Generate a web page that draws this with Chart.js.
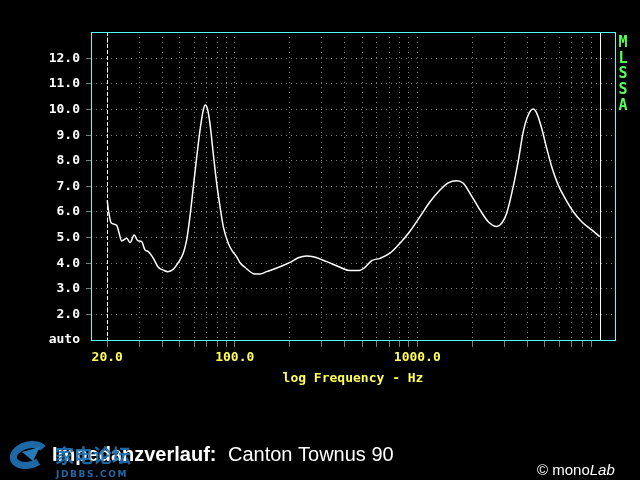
<!DOCTYPE html>
<html><head><meta charset="utf-8">
<script src="https://cdn.jsdelivr.net/npm/chart.js@4/dist/chart.umd.min.js"></script>
<style>html,body{margin:0;padding:0;background:#000;overflow:hidden}canvas{display:block}</style>
</head><body><canvas id="c" width="640" height="480"></canvas>
<script>
const frequencies = [20, 20.3, 21.0, 22.5, 23.0, 24.0, 25.6, 26.7, 28.1, 29.4, 30.9, 32.2, 33.6, 35.8, 38.1, 40.6, 42.9, 46.0, 49.0, 52.2, 54.5, 56.8, 59.3, 61.9, 64.5, 67.2, 68.9, 70.7, 73.1, 76.2, 79.6, 83.0, 86.5, 92.1, 97.4, 102.4, 106.8, 113.7, 129, 137.4, 149.5, 176.9, 205, 222.8, 247.7, 269.2, 318.9, 377, 427.8, 475, 517, 562.6, 624.7, 708.7, 803.8, 912, 1035, 1174, 1332, 1479, 1644, 1787, 1945, 2206, 2449, 2723, 2901, 3090, 3357, 3576, 3809, 4057, 4321, 4511, 4804, 5117, 5451, 5924, 6447, 7157, 7960, 9030, 10000];
const impedance = [6.45, 6.08, 5.58, 5.49, 5.30, 4.87, 4.97, 4.80, 5.10, 4.88, 4.84, 4.52, 4.45, 4.19, 3.84, 3.73, 3.67, 3.76, 4.02, 4.39, 4.91, 5.82, 6.99, 8.16, 9.20, 9.98, 10.18, 10.05, 9.46, 8.29, 7.12, 6.21, 5.43, 4.78, 4.45, 4.25, 4.02, 3.84, 3.58, 3.58, 3.67, 3.86, 4.06, 4.21, 4.28, 4.25, 4.06, 3.84, 3.71, 3.71, 3.84, 4.10, 4.19, 4.39, 4.78, 5.25, 5.82, 6.40, 6.86, 7.14, 7.22, 7.12, 6.73, 6.08, 5.62, 5.43, 5.56, 5.95, 7.0, 8.0, 9.14, 9.79, 10.02, 9.86, 9.27, 8.49, 7.77, 7.05, 6.54, 6.01, 5.62, 5.30, 5.04];
const xTickValues = [20, 30, 40, 50, 60, 70, 80, 90, 100, 200, 300, 400, 500, 600, 700, 800, 900, 1000, 2000, 3000, 4000, 5000, 6000, 7000, 8000, 9000];
const xTickLabels = {20: '20.0', 100: '100.0', 1000: '1000.0'};
const yTickValues = [1, 2, 3, 4, 5, 6, 7, 8, 9, 10, 11, 12];
const yTickLabels = ['auto', '2.0', '3.0', '4.0', '5.0', '6.0', '7.0', '8.0', '9.0', '10.0', '11.0', '12.0'];
const xAxisTitle = 'log Frequency - Hz';
const sideLabel = 'MLSSA';
const titleBold = 'Impedanzverlauf:';
const titleText = 'Canton Townus 90';
const creditA = '\u00A9 mono';
const creditB = 'Lab';
const watermarkCN = '家电论坛';
const watermarkEN = 'JDBBS.COM';
const rangeStart = 20;
const rangeEnd = 10000;

const GRID = '#7c7c7c';
const CYAN = '#55ffff';
const YELLOW = '#ffff55';
const GREEN = '#55ff55';

const decor = {
  id: 'decor',
  beforeDraw(chart) {
    const c = chart.ctx;
    c.save(); c.fillStyle = '#000'; c.fillRect(0, 0, chart.width, chart.height); c.restore();
  },
  beforeDatasetsDraw(chart) {
    const c = chart.ctx, a = chart.chartArea, x = chart.scales.x;
    c.save();
    c.strokeStyle = '#ffffff'; c.lineWidth = 1;
    const x1 = Math.round(x.getPixelForValue(rangeStart)) + 0.5;
    c.setLineDash([4, 2]);
    c.beginPath(); c.moveTo(x1, a.top); c.lineTo(x1, a.bottom); c.stroke();
    c.setLineDash([]);
    const x2 = Math.round(x.getPixelForValue(rangeEnd)) + 0.5;
    c.beginPath(); c.moveTo(x2, a.top); c.lineTo(x2, a.bottom); c.stroke();
    c.restore();
  },
  afterDraw(chart) {
    const c = chart.ctx, a = chart.chartArea;
    c.save();
    c.strokeStyle = CYAN; c.lineWidth = 1;
    c.strokeRect(a.left + 0.5, a.top + 0.5, a.right - a.left, a.bottom - a.top);
    // side label
    c.fillStyle = GREEN; c.font = 'bold 15px "DejaVu Sans Mono"';
    c.textAlign = 'center'; c.textBaseline = 'middle';
    for (let i = 0; i < sideLabel.length; i++) c.fillText(sideLabel[i], 623, 43 + i * 15.8);
    // bottom title
    c.textAlign = 'left'; c.textBaseline = 'alphabetic';
    c.fillStyle = '#ffffff';
    c.font = 'bold 20px "Liberation Sans"';
    c.fillText(titleBold, 52, 461);
    c.font = '20px "Liberation Sans"';
    c.fillText(titleText, 228, 461);
    // credit
    c.font = '15px "Liberation Sans"';
    c.fillText(creditA, 537, 475);
    const w = c.measureText(creditA).width;
    c.font = 'italic 15px "Liberation Sans"';
    c.fillText(creditB, 537 + w, 475);
    // watermark
    c.globalAlpha = 0.92;
    c.strokeStyle = '#1f72b4'; c.lineWidth = 7;
    c.beginPath(); c.ellipse(29, 455, 16, 10, -0.25, 0.35 * Math.PI, 1.9 * Math.PI); c.stroke();
    c.fillStyle = '#2a86c8';
    c.beginPath(); c.moveTo(22, 452); c.lineTo(40, 447); c.lineTo(33, 461); c.closePath(); c.fill();
    c.fillStyle = '#1f72b4';
    c.font = 'bold 19px "Noto Sans CJK SC"';
    c.fillText(watermarkCN, 55, 463);
    c.font = 'bold 9px "DejaVu Sans"';
    c.letterSpacing = '1.6px';
    c.fillText(watermarkEN, 56, 477);
    c.restore();
  }
};

new Chart(document.getElementById('c').getContext('2d'), {
  type: 'line',
  data: {
    datasets: [{
      data: frequencies.map((f, i) => ({x: f, y: impedance[i]})),
      borderColor: '#ffffff', borderWidth: 1.5, pointRadius: 0,
      cubicInterpolationMode: 'monotone', fill: false
    }]
  },
  options: {
    responsive: false, animation: false, devicePixelRatio: 1,
    layout: {padding: {left: 0, right: 25, top: 32, bottom: 90}},
    plugins: {legend: {display: false}, tooltip: {enabled: false}},
    scales: {
      x: {
        type: 'logarithmic', min: 16.3, max: 12116,
        afterBuildTicks: s => { s.ticks = xTickValues.map(v => ({value: v})); },
        afterFit: s => { s.height = 50; },
        ticks: {autoSkip: false, maxRotation: 0, minRotation: 0, padding: 3, color: YELLOW,
          font: {family: 'DejaVu Sans Mono', size: 13, weight: 'bold'},
          callback: v => xTickLabels[v] || ''},
        grid: {color: GRID, tickColor: GRID, tickLength: 7, tickBorderDash: []},
        border: {display: false, dash: [1, 4]},
        title: {display: true, text: xAxisTitle, color: YELLOW,
          font: {family: 'DejaVu Sans Mono', size: 13, weight: 'bold'}, padding: {top: 4, bottom: 4}}
      },
      y: {
        type: 'linear', min: 1, max: 13.03,
        afterBuildTicks: s => { s.ticks = yTickValues.map(v => ({value: v})); },
        afterFit: s => { s.width = 91; },
        ticks: {padding: 6, color: '#ffffff',
          font: {family: 'DejaVu Sans Mono', size: 13, weight: 'bold'},
          callback: (v, i) => yTickLabels[i]},
        grid: {
          color: ctx => (ctx.tick && ctx.tick.value === 1) ? 'rgba(0,0,0,0)' : GRID,
          tickColor: ctx => (ctx.tick && ctx.tick.value === 1) ? 'rgba(0,0,0,0)' : GRID,
          tickLength: 5, tickBorderDash: []},
        border: {display: false, dash: [1, 4]}
      }
    }
  },
  plugins: [decor]
});
</script>
</body></html>
